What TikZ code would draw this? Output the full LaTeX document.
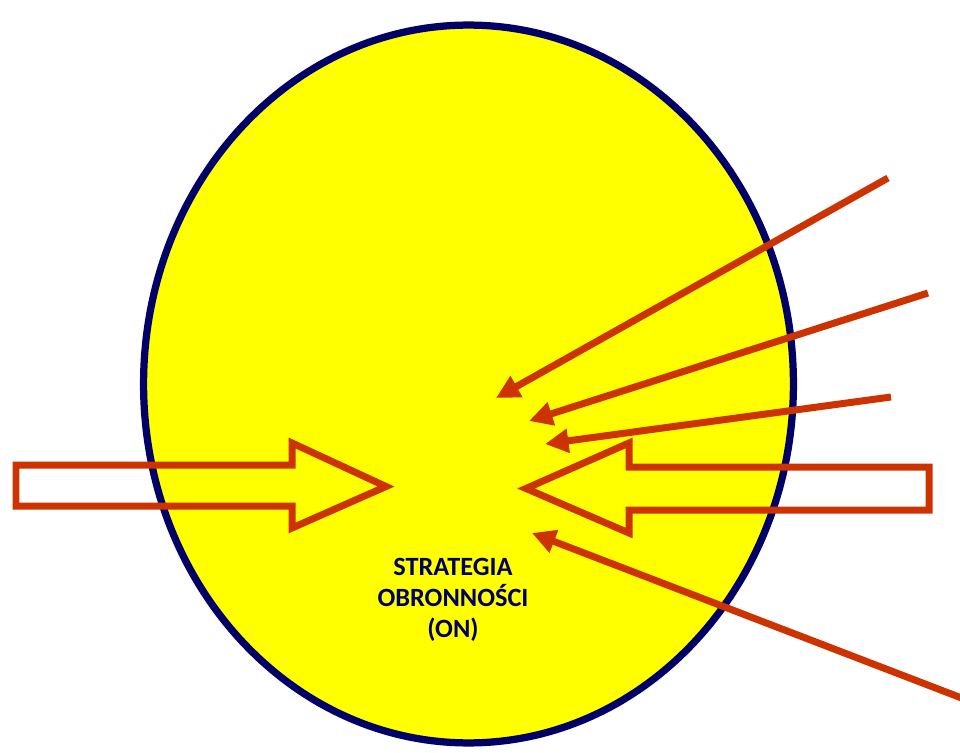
\documentclass[tikz,border=0pt]{standalone}
\usepackage{fontspec}
\setsansfont{Carlito}
\usepackage{xcolor}
\usetikzlibrary{arrows.meta}

\definecolor{ovalyellow}{HTML}{FFFF00}
\definecolor{ovalnavy}{HTML}{000066}
\definecolor{forcered}{HTML}{CC3300}

\begin{document}
\begin{tikzpicture}[x=0.02cm, y=-0.02cm, font=\sffamily\bfseries]

    % ==========================================
    % DEFINE PARAMETERS & COORDINATES
    % ==========================================

    % picture frame (pixel units, y pointing down)
    \useasboundingbox (0,0) rectangle (960,753);

    \tikzset{
        force/.style={forcered, line width=0.14cm,
            -{Triangle[length=0.47cm, width=0.46cm]}},
        bigforce/.style={forcered, line width=0.14cm, line join=miter, fill=none}
    }

    % centre of the oval
    \coordinate (O) at (468.5, 384);

    % tails and tips of the thin arrows
    \coordinate (T1) at (888, 178);  \coordinate (H1) at (496, 398);
    \coordinate (T2) at (928, 293);  \coordinate (H2) at (529, 421);
    \coordinate (T3) at (891, 397);  \coordinate (H3) at (545, 444);
    \coordinate (T4) at (985, 707);  \coordinate (H4) at (532, 533);

    % ==========================================
    % DRAW THE OVAL
    % ==========================================

    \draw[ovalnavy, fill=ovalyellow, line width=0.145cm]
        (O) ellipse [x radius=6.5cm, y radius=7.18cm];

    % ==========================================
    % DRAW THE BLOCK ARROWS
    % ==========================================

    % left one, pointing right
    \draw[bigforce] (16,465) -- (292,465) -- (292,443) -- (386,486.5)
        -- (292,528) -- (292,506) -- (16,506) -- cycle;

    % right one, pointing left
    \draw[bigforce] (929,467) -- (629,467) -- (629,443) -- (526,488.5)
        -- (629,533) -- (629,510) -- (929,510) -- cycle;

    % ==========================================
    % DRAW THE THIN ARROWS
    % ==========================================

    \draw[force] (T1) -- (H1);
    \draw[force] (T2) -- (H2);
    \draw[force] (T3) -- (H3);
    \draw[force] (T4) -- (H4);

    % ==========================================
    % LABEL
    % ==========================================

    \node[ovalnavy, align=center, inner sep=0pt,
          font=\sffamily\bfseries\fontsize{15}{17.6}\selectfont] (label)
        at (453, 600) {STRATEGIA\\OBRONNOŚCI\\(ON)};

\end{tikzpicture}
\end{document}
